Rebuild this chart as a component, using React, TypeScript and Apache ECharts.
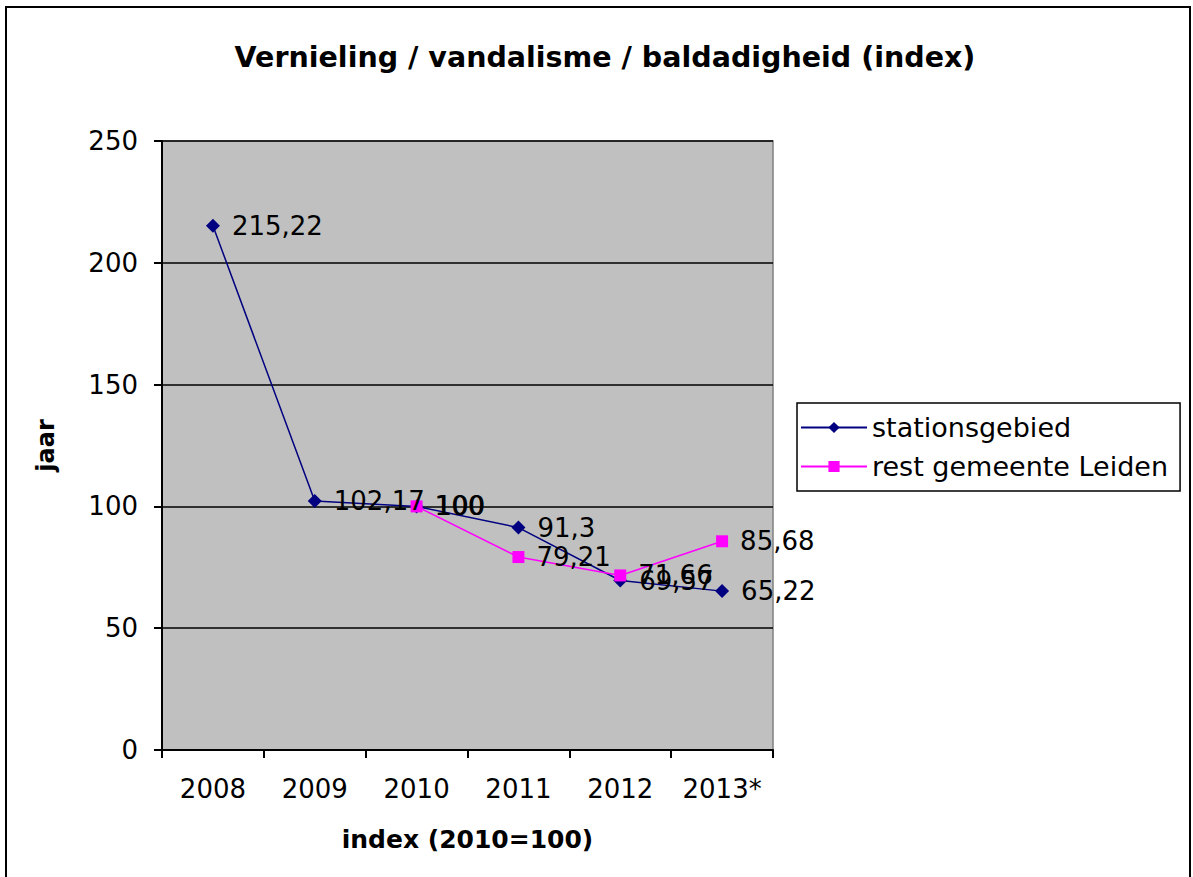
import React, { useEffect, useRef } from "react";
import * as echarts from "echarts";

const categories = ["2008", "2009", "2010", "2011", "2012", "2013*"];
const stationsgebied = [215.22, 102.17, 100, 91.3, 69.57, 65.22];
const restLeiden = [null, null, 100, 79.21, 71.66, 85.68];
const seriesNames = ["stationsgebied", "rest gemeente Leiden"];
const titleText = "Vernieling / vandalisme / baldadigheid (index)";
const yName = "jaar";
const xName = "index (2010=100)";

const FONT = "DejaVu Sans, Liberation Sans, Arial, sans-serif";

const fmt = (v: number) => String(v).replace(".", ",");

export default function App() {
  const ref = useRef<HTMLDivElement>(null);
  useEffect(() => {
    document.body.style.margin = "0";
    const chart = echarts.init(ref.current!, null, { renderer: "svg" });
    const labelCfg = {
      show: true,
      position: "right" as const,
      distance: 12,
      color: "#000",
      fontSize: 26,
      fontFamily: FONT,
      formatter: (p: any) => fmt(p.value),
    };
    chart.setOption({
      animation: false,
      backgroundColor: "#fff",
      title: {
        text: titleText,
        left: 600,
        textAlign: "center",
        top: 38,
        textStyle: { fontSize: 28.5, fontWeight: "bold", fontFamily: FONT, color: "#000" },
      },
      grid: {
        left: 162,
        top: 141,
        width: 611,
        height: 609,
        show: true,
        backgroundColor: "#C0C0C0",
        borderColor: "#808080",
        borderWidth: 1.5,
      },
      legend: {
        orient: "vertical",
        left: 797,
        top: 403,
        width: 388,
        borderColor: "#000",
        borderWidth: 1.5,
        padding: [11, 12, 11, 3],
        itemGap: 12,
        itemWidth: 66,
        itemHeight: 14,
        textStyle: { fontSize: 27, fontFamily: FONT, color: "#000" },
        data: seriesNames,
      },
      xAxis: {
        type: "category",
        data: categories,
        boundaryGap: true,
        name: xName,
        nameLocation: "middle",
        nameGap: 77,
        nameTextStyle: { fontSize: 25, fontWeight: "bold", fontFamily: FONT, color: "#000" },
        axisLine: { lineStyle: { color: "#000", width: 2 } },
        axisTick: { show: true, interval: 0, length: 8, lineStyle: { color: "#000", width: 2 } },
        axisLabel: { interval: 0, fontSize: 26, fontFamily: FONT, color: "#000", margin: 26 },
      },
      yAxis: {
        type: "value",
        min: 0,
        max: 250,
        interval: 50,
        name: yName,
        nameLocation: "middle",
        nameGap: 104,
        nameRotate: 90,
        nameTextStyle: { fontSize: 24, fontWeight: "bold", fontFamily: FONT, color: "#000" },
        axisLine: { show: true, lineStyle: { color: "#000", width: 2 } },
        axisTick: { show: true, length: 8, lineStyle: { color: "#000", width: 2 } },
        axisLabel: { fontSize: 26, fontFamily: FONT, color: "#000", margin: 24 },
        splitLine: { show: true, lineStyle: { color: "#000", width: 1.5 } },
      },
      graphic: [
        {
          type: "rect",
          shape: { x: 6, y: 7, width: 1184, height: 900 },
          style: { fill: "none", stroke: "#000", lineWidth: 2 },
          silent: true,
          z: 100,
        },
      ],
      series: [
        {
          name: seriesNames[0],
          type: "line",
          data: stationsgebied,
          symbol: "diamond",
          symbolSize: 14,
          color: "#000080",
          lineStyle: { color: "#000080", width: 1.5 },
          itemStyle: { color: "#000080" },
          label: labelCfg,
        },
        {
          name: seriesNames[1],
          type: "line",
          data: restLeiden,
          symbol: "rect",
          symbolSize: 12,
          color: "#FF00FF",
          lineStyle: { color: "#FF00FF", width: 1.5 },
          itemStyle: { color: "#FF00FF" },
          label: labelCfg,
        },
      ],
    });
    return () => chart.dispose();
  }, []);
  return <div ref={ref} style={{ width: 1193, height: 877 }} />;
}
